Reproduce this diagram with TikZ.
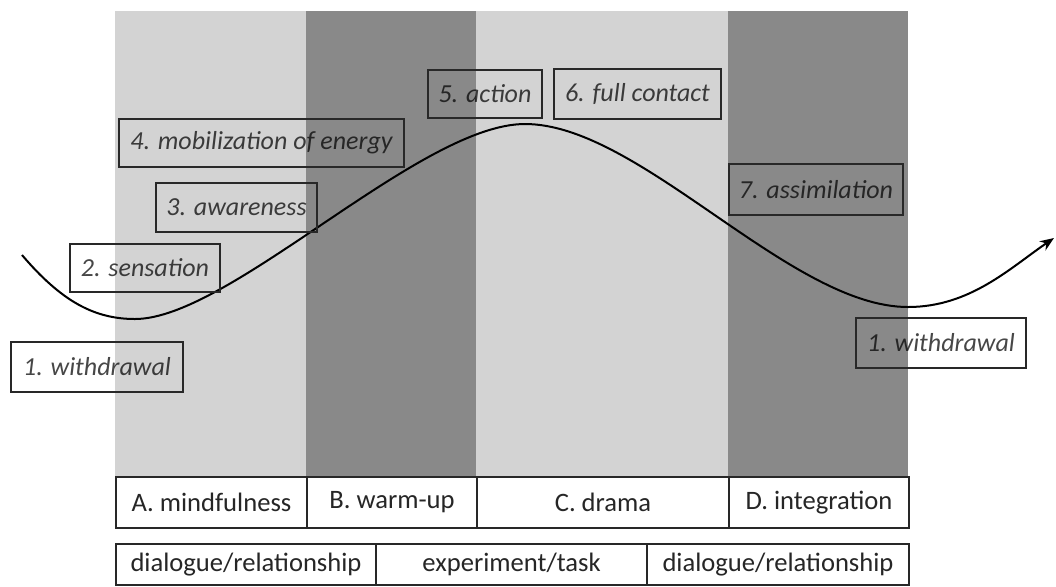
\documentclass[tikz,border=0pt]{standalone}
\usepackage{fontspec}
\setmainfont{Carlito}
\usetikzlibrary{arrows.meta}
\definecolor{lightband}{RGB}{211,211,211}
\definecolor{darkband}{RGB}{137,137,137}
\definecolor{rim}{RGB}{40,40,40}
\tikzset{
    stage/.style={draw=rim, line width=1pt, text=black, text opacity=0.72, font=\fontsize{13}{15}\selectfont\itshape, inner sep=0pt, anchor=north west}, % labels along the curve
    phase/.style={draw=rim, line width=1pt, fill=white, text=black!85, font=\fontsize{13.3}{16}\selectfont, inner sep=0pt, anchor=north west} % boxes under the bands
}

\begin{document}
\begin{tikzpicture}[x=0.5pt, y=-0.5pt]
    \def\xl{115} \def\xr{908} \def\ytop{11} \def\ybot{476}
    \useasboundingbox (0,0) rectangle (1056,586);

    \fill[lightband] (\xl,\ytop) rectangle (\xr,\ybot);
    \fill[darkband] (306,\ytop) rectangle (476,\ybot);
    \fill[darkband] (728,\ytop) rectangle (\xr,\ybot);

    \coordinate (start) at (22,255);
    \coordinate (low1) at (135,319);
    \coordinate (peak) at (525,124);
    \coordinate (low2) at (908,307);
    \coordinate (end) at (1054,238);
    \draw[line width=1pt, -{Stealth[length=7pt, width=5.5pt]}] (start) .. controls (62,302) and (95,319) .. (low1)
        .. controls (230,319) and (420,124) .. (peak)
        .. controls (640,124) and (790,307) .. (low2)
        .. controls (970,307) and (1010,268) .. (end);

    \node[stage, minimum width=86pt, minimum height=25pt] (with1) at (10,341) {1. withdrawal};
    \node[stage, minimum width=75pt, minimum height=24pt] (sens) at (69,243) {2. sensation};
    \node[stage, minimum width=80.5pt, minimum height=24.5pt] (aware) at (155,182) {3. awareness};
    \node[stage, minimum width=142.5pt, minimum height=24pt] (mobil) at (118,118) {4. mobilization of energy};
    \node[stage, minimum width=57pt, minimum height=24pt] (act) at (427,69) {5. action};
    \node[stage, minimum width=83.5pt, minimum height=25pt] (cont) at (553,68) {6. full contact};
    \node[stage, minimum width=87pt, minimum height=25.5pt] (assim) at (728,163) {7. assimilation};
    \node[stage, minimum width=85pt, minimum height=25pt] (with2) at (855,317) {1. withdrawal};

    \foreach \x/\w/\t/\n in {115/95.5/{A. mindfulness}/pa, 306/85/{B. warm-up}/pb, 476/126/{C. drama}/pc, 728/90/{D. integration}/pd}
        \node[phase, minimum width=\w pt, minimum height=25.5pt, name=\n] at (\x,\ybot) {\t};
    \foreach \x/\w/\t/\n in {115/130/{dialogue/relationship}/ma, 375/135.5/{experiment/task}/mb, 646/131/{dialogue/relationship}/mc}
        \node[phase, minimum width=\w pt, minimum height=20.5pt, name=\n] at (\x,543) {\t};
\end{tikzpicture}
\end{document}
